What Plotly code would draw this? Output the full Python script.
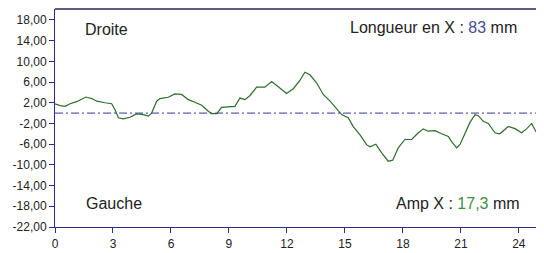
import plotly.graph_objects as go

# Profile data (x in mm, y deviation)
x_vals = [0.0, 0.26, 0.52, 0.78, 1.12, 1.6, 1.9, 2.16, 2.59, 2.93, 3.1, 3.28, 3.53, 3.88, 4.22,
          4.57, 4.83, 5.0, 5.26, 5.43, 5.86, 6.2, 6.55, 6.9, 7.24, 7.59, 7.93, 8.1, 8.37, 8.62,
          8.97, 9.31, 9.57, 9.83, 10.09, 10.43, 10.86, 11.21, 11.55, 11.98, 12.33, 12.67, 12.93,
          13.19, 13.54, 13.88, 14.23, 14.57, 14.83, 15.17, 15.43, 15.78, 16.12, 16.3, 16.6, 16.9,
          17.24, 17.47, 17.76, 18.1, 18.45, 18.8, 19.05, 19.31, 19.66, 20.0, 20.35, 20.52, 20.78,
          20.95, 21.21, 21.47, 21.73, 21.9, 22.16, 22.42, 22.76, 23.02, 23.45, 23.8, 24.14, 24.4,
          24.66, 24.87, 25.09, 25.3]
y_vals = [1.8, 1.45, 1.3, 1.8, 2.2, 3.1, 2.8, 2.3, 2.0, 1.8, 0.7, -0.9, -1.1, -0.8, -0.15,
          -0.3, -0.6, 0.0, 2.3, 2.8, 3.05, 3.7, 3.6, 2.6, 2.1, 1.5, 0.35, -0.1, -0.1, 1.1,
          1.2, 1.3, 2.9, 2.6, 3.4, 5.0, 5.0, 6.1, 5.1, 3.8, 4.7, 6.3, 7.9,
          7.4, 5.8, 3.6, 2.3, 0.7, -0.3, -0.9, -2.6, -4.2, -6.1, -6.5, -6.0, -7.7,
          -9.3, -9.1, -6.7, -5.1, -5.1, -3.8, -3.05, -3.5, -3.4, -4.0, -4.5, -5.5, -6.7,
          -6.1, -3.8, -1.8, -0.3, -0.5, -1.6, -2.0, -3.8, -4.0, -2.6, -3.0, -3.8, -3.05,
          -2.0, -3.5, -4.3, -3.8]

y_ticks = [18, 14, 10, 6, 2, -2, -6, -10, -14, -18, -22]
y_tick_labels = ["18,00", "14,00", "10,00", "6,00", "2,00", "-2,00", "-6,00", "-10,00",
                 "-14,00", "-18,00", "-22,00"]
x_ticks = [0, 3, 6, 9, 12, 15, 18, 21, 24]
x_range = [0, 25.3]
y_range = [-22, 20.1]
ref_level = 0

fig = go.Figure()
fig.add_trace(go.Scatter(x=[x_range[0], x_range[1]], y=[ref_level, ref_level], mode="lines",
                         line=dict(color="#34349a", width=1, dash="8px,3px,2px,3px"),
                         hoverinfo="skip", showlegend=False))
fig.add_trace(go.Scatter(x=x_vals, y=y_vals, mode="lines",
                         line=dict(color="#2c6e2c", width=1.2), showlegend=False))

axis_col = "#2b2b95"
tick_font = dict(family="Liberation Sans, Arial", size=12, color="#222")
fig.update_xaxes(range=x_range, tickvals=x_ticks, showline=True, linecolor=axis_col, linewidth=1,
                 ticks="outside", ticklen=5, tickcolor=axis_col, showgrid=False, zeroline=False,
                 ticklabelstandoff=1, tickfont=tick_font)
fig.update_yaxes(range=y_range, tickvals=y_ticks, ticktext=y_tick_labels, showline=True,
                 linecolor=axis_col, linewidth=1, ticks="outside", ticklen=5, tickcolor=axis_col,
                 showgrid=False, zeroline=False, tickfont=tick_font)

fig.add_shape(type="line", xref="paper", yref="paper", x0=0, x1=1, y0=1, y1=1,
              line=dict(color="#5c5c7e", width=2))

font = dict(family="Liberation Sans, Arial", size=16, color="#222")
fig.add_annotation(x=1.45, y=16.1, text="Droite", showarrow=False, xanchor="left", font=font)
fig.add_annotation(x=1.5, y=-17.5, text="Gauche", showarrow=False, xanchor="left", font=font)
fig.add_annotation(x=19.6, y=16.5, text="Longueur en X : <span style='color:#4a4a9a'>83</span> mm",
                   showarrow=False, xanchor="center", font=font)
fig.add_annotation(x=20.85, y=-17.5, text="Amp X : <span style='color:#3f8f3f'>17,3</span> mm",
                   showarrow=False, xanchor="center", font=font)

# page body adds an 8px offset; compensate via margins
fig.update_layout(width=536, height=245, margin=dict(l=47, r=0, t=1, b=26),
                  plot_bgcolor="white", paper_bgcolor="white", showlegend=False)

fig.write_html("out.html")
